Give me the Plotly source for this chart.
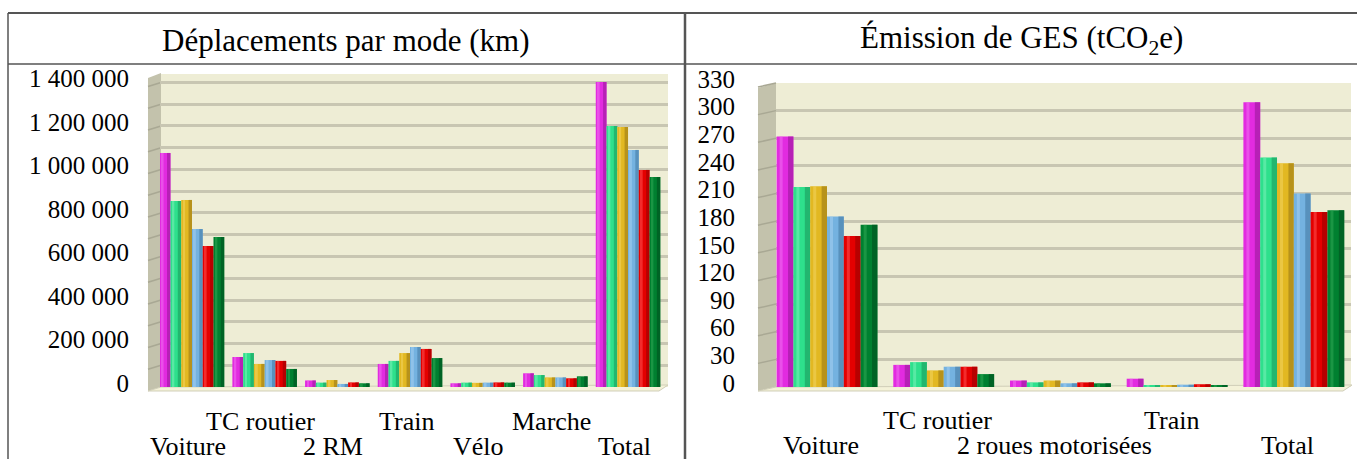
import plotly.graph_objects as go

W, H = 1357, 459

# ---- data: distances travelled per mode (km), six series ----
modes_km = ["Voiture", "TC routier", "2 RM", "Train", "Vélo", "Marche", "Total"]
km_serie1 = [1076000, 138000, 30000, 106000, 17000, 63000, 1402000]
km_serie2 = [855000, 156000, 20000, 120000, 20000, 55000, 1200000]
km_serie3 = [860000, 106000, 32000, 156000, 19000, 44000, 1195000]
km_serie4 = [726000, 124000, 14000, 184000, 20000, 44000, 1090000]
km_serie5 = [648000, 120000, 21000, 175000, 21000, 40000, 998000]
km_serie6 = [690000, 83000, 17000, 133000, 20000, 49000, 965000]

# ---- data: greenhouse gas emissions (tCO2e), six series ----
modes_ges = ["Voiture", "TC routier", "2 roues motorisées", "Train", "Total"]
ges_serie1 = [272, 24, 7, 9, 309]
ges_serie2 = [217, 27, 5, 2, 249]
ges_serie3 = [218, 18, 7, 2, 243]
ges_serie4 = [185, 22, 4, 2.5, 210]
ges_serie5 = [164, 22, 5, 3, 190]
ges_serie6 = [176, 14, 4, 2, 192]

km_ticks = [0, 100000, 200000, 300000, 400000, 500000, 600000, 700000,
            800000, 900000, 1000000, 1100000, 1200000, 1300000, 1400000]
km_ticktext = ["0", "", "200 000", "", "400 000", "", "600 000", "", "800 000",
               "", "1 000 000", "", "1 200 000", "", "1 400 000"]
ges_ticks = [0, 30, 60, 90, 120, 150, 180, 210, 240, 270, 300, 330]
ges_ticktext = [str(v) for v in ges_ticks]

colors = ["#E22BE0", "#2EE08C", "#E2B822", "#74B2E0", "#E40000", "#008030"]
shades = ["#A81EA8", "#1FA866", "#A8861A", "#4F86B0", "#A80000", "#005A22"]
lights = ["#F070F0", "#7CF0B8", "#F2D460", "#A6D0F0", "#FF5050", "#30A855"]

FONT = "'Liberation Serif', 'Times New Roman', Times, serif"

# pixel geometry of the two panels
KM_X0, KM_X1, KM_YB, KM_YT, KM_MAX = 160, 668, 387, 74, 1439000
GES_X0, GES_X1, GES_YB, GES_YT, GES_MAX = 776, 1351, 387, 83, 330


def px(x):
    return x / W


def py(y):
    return 1 - y / H


fig = go.Figure()


def add_group(series, xaxis, yaxis, bw):
    n = len(series)
    for j, vals in enumerate(series):
        cats = list(range(len(vals)))
        off = (j - n / 2) * bw
        common = dict(x=cats, y=vals, xaxis=xaxis, yaxis=yaxis,
                      showlegend=False, hoverinfo="skip")
        fig.add_trace(go.Bar(**common, offset=off, width=bw,
                             marker=dict(color=colors[j], line=dict(width=0))))
        # cylinder shading: highlight on the left, shadow on the right
        fig.add_trace(go.Bar(**common, offset=off + 0.18 * bw, width=0.18 * bw,
                             marker=dict(color=lights[j], line=dict(width=0),
                                         opacity=0.55)))
        fig.add_trace(go.Bar(**common, offset=off + 0.68 * bw, width=0.32 * bw,
                             marker=dict(color=shades[j], line=dict(width=0),
                                         opacity=0.75)))


add_group([km_serie1, km_serie2, km_serie3, km_serie4, km_serie5, km_serie6],
          "x", "y", 0.148)
add_group([ges_serie1, ges_serie2, ges_serie3, ges_serie4, ges_serie5, ges_serie6],
          "x2", "y2", 0.144)

grid = "#C8C6B2"
tickfont = dict(family=FONT, size=25, color="#000000")
xcommon = dict(showticklabels=False, showgrid=False, zeroline=False,
               showline=False, ticks="", automargin=False, fixedrange=True)
ycommon = dict(tickfont=tickfont, showgrid=True, gridcolor=grid, gridwidth=2.5,
               zeroline=False, showline=False, ticks="", automargin=False,
               ticklabelshift=-4, fixedrange=True)

fig.update_layout(
    width=W, height=H,
    margin=dict(l=0, r=0, t=0, b=0, pad=0, autoexpand=False),
    paper_bgcolor="#FFFFFF",
    plot_bgcolor="#EEEDD5",
    barmode="overlay",
    font=dict(family=FONT),
    xaxis=dict(domain=[px(KM_X0), px(KM_X1)], range=[-0.44, 6.55], anchor="y", **xcommon),
    yaxis=dict(domain=[py(KM_YB), py(KM_YT)], range=[0, KM_MAX], tickvals=km_ticks,
               ticktext=km_ticktext, anchor="x", ticklabelstandoff=30, **ycommon),
    xaxis2=dict(domain=[px(GES_X0), px(GES_X1)], range=[-0.437, 4.49], anchor="y2",
                **xcommon),
    yaxis2=dict(domain=[py(GES_YB), py(GES_YT)], range=[0, GES_MAX], tickvals=ges_ticks,
                ticktext=ges_ticktext, anchor="x2", ticklabelstandoff=40, **ycommon),
)

shapes = []


def poly(points, fill, line=None):
    path = "M " + " L ".join(f"{px(x):.5f},{py(y):.5f}" for x, y in points) + " Z"
    shapes.append(dict(type="path", xref="paper", yref="paper", path=path,
                       fillcolor=fill, line=dict(width=0 if line is None else 1,
                                                 color=line or fill), layer="below"))


# 3D side walls and floors
poly([(148, 391), (148, 78), (161, 73), (161, 387)], "#C3C2AC")
poly([(148, 391), (659, 391), (668, 385), (161, 387)], "#F4F2D8", "#D0CEB8")
poly([(758, 391), (758, 88), (776, 83), (776, 387)], "#C3C2AC")
poly([(758, 391), (1343, 391), (1352, 385), (776, 387)], "#F4F2D8", "#D0CEB8")


# gridlines continued across the side walls
def wall_lines(ticks, vmax, yb, yt, xw0, xw1):
    for v in ticks[1:]:
        y = yb - v / vmax * (yb - yt)
        shapes.append(dict(type="line", xref="paper", yref="paper", layer="below",
                           x0=px(xw0), y0=py(y + 4), x1=px(xw1), y1=py(y),
                           line=dict(color="#A9A894", width=1.5)))


wall_lines(km_ticks, KM_MAX, KM_YB, KM_YT, 148, 161)
wall_lines(ges_ticks, GES_MAX, GES_YB, GES_YT, 758, 776)

# table frame
frame = "#555555"
for x0, y0, x1, y1, w in [(8, 13, 1357, 13, 2), (8, 64, 1357, 64, 1.5),
                          (8, 13, 8, 459, 1.5), (685, 13, 685, 459, 2.5)]:
    shapes.append(dict(type="line", xref="paper", yref="paper", x0=px(x0), y0=py(y0),
                       x1=px(x1), y1=py(y1), line=dict(color=frame, width=w)))
fig.update_layout(shapes=shapes)

titlefont = dict(family=FONT, size=31, color="#000")
annotations = [
    dict(text="Déplacements par mode (km)", x=px(346), y=py(40)),
    dict(text="Émission de GES (tCO<sub>2</sub>e)", x=px(1021), y=py(40)),
]
for a in annotations:
    a.update(xref="paper", yref="paper", showarrow=False, xanchor="center",
             yanchor="middle", font=titlefont)
catfont = dict(family=FONT, size=26, color="#000")
for i, name in enumerate(modes_km):
    annotations.append(dict(text=name, x=i, xref="x", y=py(421 if i % 2 else 446),
                            yref="paper", showarrow=False, xshift=-4, font=catfont,
                            xanchor="center", yanchor="middle"))
for i, name in enumerate(modes_ges):
    annotations.append(dict(text=name, x=i, xref="x2", y=py(420 if i % 2 else 445),
                            yref="paper", showarrow=False, xshift=-6, font=catfont,
                            xanchor="center", yanchor="middle"))
fig.update_layout(annotations=annotations)

fig.write_html("out.html")
